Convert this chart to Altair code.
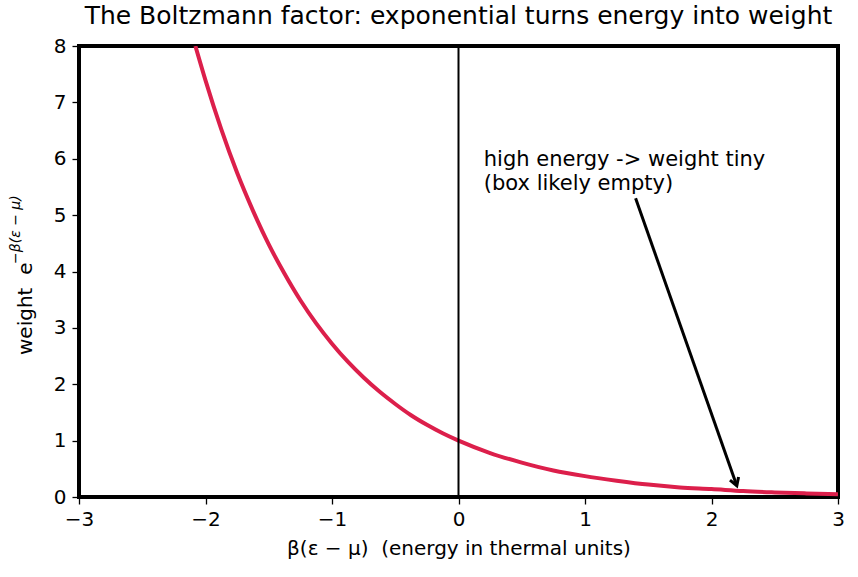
import math
import altair as alt
import pandas as pd

# values (weight vs energy)
energy = [-2.08, -2.0, -1.875, -1.75, -1.625, -1.5, -1.375, -1.25, -1.125, -1.0, -0.875, -0.75,
          -0.625, -0.5, -0.375, -0.25, -0.125, 0.0, 0.25, 0.5, 0.75, 1.0, 1.25, 1.5, 1.75,
          2.0, 2.25, 2.5, 2.75, 3.0]
weight = [8.0, 7.39, 6.52, 5.75, 5.08, 4.48, 3.96, 3.49, 3.08, 2.72, 2.40, 2.12,
          1.87, 1.65, 1.45, 1.28, 1.13, 1.0, 0.78, 0.61, 0.47, 0.37, 0.29, 0.22, 0.17,
          0.14, 0.105, 0.082, 0.064, 0.05]

x_ticks = [-3, -2, -1, 0, 1, 2, 3]
y_ticks = [0, 1, 2, 3, 4, 5, 6, 7, 8]

ann_text = ["high energy -> weight tiny", "(box likely empty)"]
ann_pos = [0.2, 6.18]
arrow_start = [1.4, 5.3]
arrow_end = [2.2, 0.2]

W, H = 759, 451
XD, YD = [-3, 3], [0, 8]
FONT = "DejaVu Sans"
SP = "\u00a0\u00a0"

df = pd.DataFrame({"x": energy, "y": weight})

xs = alt.Scale(domain=XD, nice=False, zero=False)
ys = alt.Scale(domain=YD, nice=False)

curve = alt.Chart(df).mark_line(color="#dc1f4b", strokeWidth=4, interpolate="monotone", clip=True).encode(
    x=alt.X("x:Q", scale=xs, axis=alt.Axis(values=x_ticks, format="d",
                                            title=f"β(ε − μ){SP}(energy in thermal units)",
                                            titleFont=FONT, titleFontSize=20, titleFontWeight="normal",
                                            titleColor="black", titlePadding=9,
                                            labelFont=FONT, labelFontSize=20, labelColor="black",
                                            labelPadding=5, tickSize=7, tickColor="black", tickWidth=1.3,
                                            domain=False, grid=False, labelFlush=False)),
    y=alt.Y("y:Q", scale=ys, axis=alt.Axis(values=y_ticks, format="d", title=None,
                                            labelFont=FONT, labelFontSize=20, labelColor="black",
                                            labelPadding=6, tickSize=7, tickColor="black", tickWidth=1.3,
                                            domain=False, grid=False, labelFlush=False)),
)

vline = alt.Chart(pd.DataFrame({"x": [0]})).mark_rule(color="black", strokeWidth=2).encode(
    x=alt.X("x:Q", scale=xs)
)

ann = alt.Chart(pd.DataFrame({"x": [ann_pos[0]], "y": [ann_pos[1]], "t": ["\n".join(ann_text)]})).mark_text(
    font=FONT, fontSize=21, align="left", baseline="top", lineBreak="\n", lineHeight=24, color="black"
).encode(x=alt.X("x:Q", scale=xs), y=alt.Y("y:Q", scale=ys), text="t:N")

arrow_df = pd.DataFrame({"x": [arrow_start[0]], "y": [arrow_start[1]], "x2": [arrow_end[0]], "y2": [arrow_end[1]]})
shaft = alt.Chart(arrow_df).mark_rule(color="black", strokeWidth=3).encode(
    x=alt.X("x:Q", scale=xs), y=alt.Y("y:Q", scale=ys), x2="x2:Q", y2="y2:Q"
)
dxp = (arrow_end[0] - arrow_start[0]) * W / (XD[1] - XD[0])
dyp = -(arrow_end[1] - arrow_start[1]) * H / (YD[1] - YD[0])
ang = math.degrees(math.atan2(dyp, dxp))
head = alt.Chart(pd.DataFrame({"x": [arrow_end[0]], "y": [arrow_end[1]]})).mark_point(
    shape="M -1 -0.6 L 0 0 L -1 0.6", filled=False, stroke="black", strokeWidth=3,
    size=230, angle=ang, opacity=1
).encode(x=alt.X("x:Q", scale=xs), y=alt.Y("y:Q", scale=ys))

ylab_main = alt.Chart(pd.DataFrame({"t": [f"weight{SP}e"]})).mark_text(
    font=FONT, fontSize=20, angle=270, align="left", baseline="alphabetic", color="black"
).encode(x=alt.value(-47), y=alt.value(309), text="t:N")
ylab_sup = alt.Chart(pd.DataFrame({"t": ["−β(ε − μ)"]})).mark_text(
    font=FONT, fontSize=14, fontStyle="italic", angle=270, align="left", baseline="alphabetic", color="black"
).encode(x=alt.value(-59), y=alt.value(218), text="t:N")

chart = alt.layer(curve, vline, ann, shaft, head, ylab_main, ylab_sup).properties(
    width=W, height=H,
    title=alt.Title("The Boltzmann factor: exponential turns energy into weight",
                    font=FONT, fontSize=25, fontWeight="normal", color="black", anchor="middle", offset=7),
    autosize=alt.AutoSizeParams(type="none"),
    padding={"left": 79, "top": 46, "right": 20, "bottom": 80},
).configure(background="white").configure_view(stroke="black", strokeWidth=4)

chart.save("out.html", embed_options={"renderer": "svg", "actions": False})
